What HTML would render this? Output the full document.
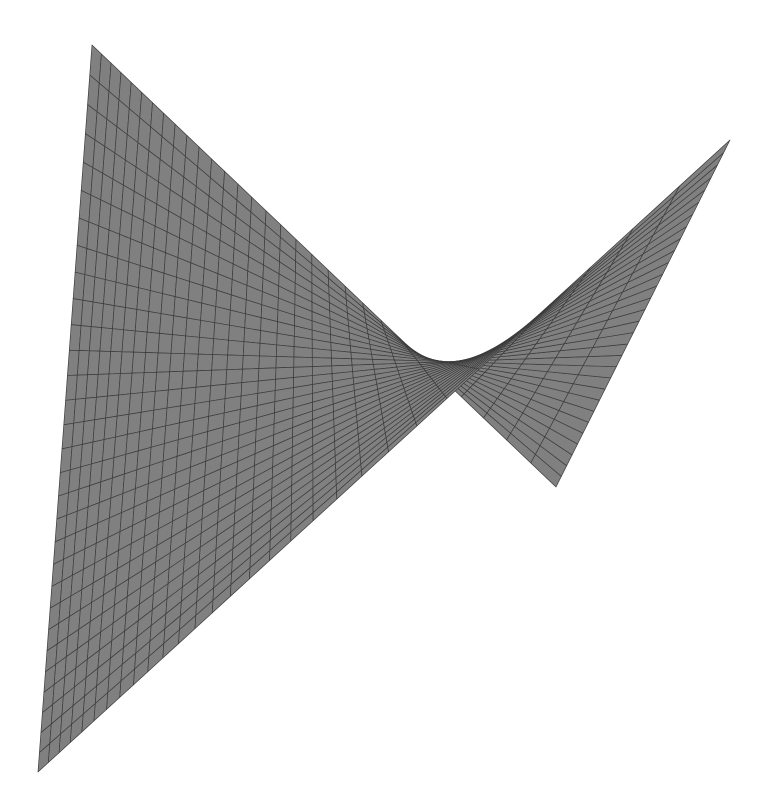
<!DOCTYPE html>
<html>
<head>
<meta charset="utf-8">
<style>
html,body{margin:0;padding:0;background:#fff;}
svg{display:block;}
</style>
</head>
<body>
<svg id="chart" width="764" height="802" viewBox="0 0 764 802" xmlns="http://www.w3.org/2000/svg">
<g id="mesh"></g>
</svg>
<script>
// Corner positions of the projected bilinear (saddle) patch, with homogeneous depth weights
const cornerX = [92, 38, 730, 556];
const cornerY = [45, 772, 140, 487];
const cornerW = [1.0, 1.25, 0.55, 0.6];
const gridU = 30;
const gridV = 30;

function proj(u, v) {
  const b = [(1-u)*(1-v), u*(1-v), u*v, (1-u)*v];
  let sx = 0, sy = 0, sw = 0;
  for (let i = 0; i < 4; i++) {
    const w = b[i] * cornerW[i];
    sx += w * cornerX[i]; sy += w * cornerY[i]; sw += w;
  }
  return [sx/sw, sy/sw];
}
const g = document.getElementById('mesh');
const NS = 'http://www.w3.org/2000/svg';
for (let i = 0; i < gridU; i++) {
  for (let j = 0; j < gridV; j++) {
    const u0 = i/gridU, u1 = (i+1)/gridU, v0 = j/gridV, v1 = (j+1)/gridV;
    const p = [proj(u0,v0), proj(u1,v0), proj(u1,v1), proj(u0,v1)];
    const poly = document.createElementNS(NS, 'polygon');
    poly.setAttribute('points', p.map(q => q[0].toFixed(2)+','+q[1].toFixed(2)).join(' '));
    poly.setAttribute('fill', '#808080');
    poly.setAttribute('stroke', '#3c3c3c');
    poly.setAttribute('stroke-width', '0.7');
    poly.setAttribute('stroke-linejoin', 'round');
    
    
    g.appendChild(poly);
  }
}
</script>
</body>
</html>
